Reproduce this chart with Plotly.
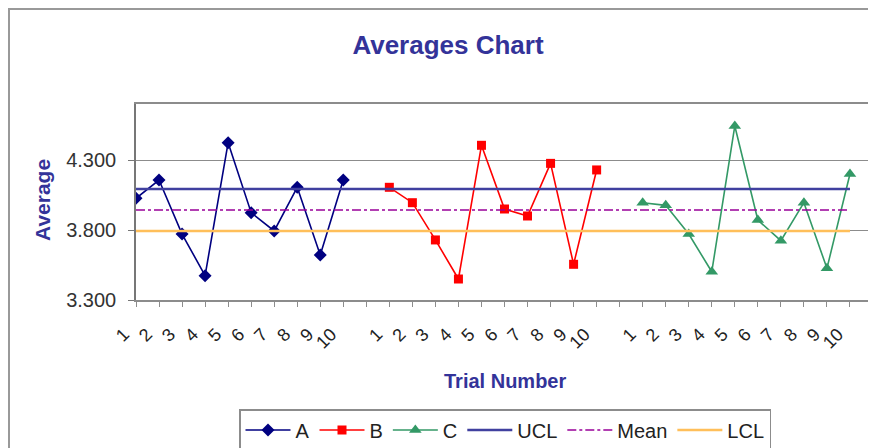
import plotly.graph_objects as go

# ---- data ----
trial_labels = ["1", "2", "3", "4", "5", "6", "7", "8", "9", "10"]
groups = ["A", "B", "C"]
avg_A = [4.026, 4.157, 3.771, 3.474, 4.424, 3.924, 3.793, 4.105, 3.621, 4.157]
avg_B = [4.105, 3.995, 3.729, 3.450, 4.405, 3.950, 3.900, 4.276, 3.555, 4.229]
avg_C = [3.995, 3.976, 3.771, 3.502, 4.543, 3.871, 3.724, 3.995, 3.526, 4.200]
ucl_value = 4.093
mean_value = 3.943
lcl_value = 3.793
y_ticks = [3.3, 3.8, 4.3]

# category slots: each group of 10 trials followed by one empty slot
slot = len(trial_labels) + 1
tick_text = (trial_labels + [""]) * len(groups)
tick_pos = list(range(len(tick_text)))
n_used = slot * len(groups) - 1  # categories covered by the control lines

series = [
    ("A", avg_A, "#000080", "diamond", 10),
    ("B", avg_B, "#FF0000", "square", 9),
    ("C", avg_C, "#339966", "triangle-up", 11),
]

fig = go.Figure()
for gi, (name, vals, col, sym, ms) in enumerate(series):
    xs = [gi * slot + i for i in range(len(vals))]
    fig.add_trace(go.Scatter(
        x=xs, y=vals, name=name, mode="lines+markers",
        line=dict(color=col, width=1.6),
        marker=dict(symbol=sym, size=ms, color=col),
    ))

ctrl_x = list(range(n_used))
fig.add_trace(go.Scatter(x=ctrl_x, y=[ucl_value] * n_used, name="UCL", mode="lines",
                         line=dict(color="#40409F", width=2.5)))
fig.add_trace(go.Scatter(x=ctrl_x, y=[mean_value] * n_used, name="Mean", mode="lines",
                         line=dict(color="#990099", width=1.5, dash="dashdot")))
fig.add_trace(go.Scatter(x=ctrl_x, y=[lcl_value] * n_used, name="LCL", mode="lines",
                         line=dict(color="#FFBF5A", width=2.5)))

# page has an 8px body margin: figure pixel = page pixel - OFF
OFF = 8
W, H = 876 - OFF, 448 - OFF
L, T = 136 - OFF, 104 - OFF
R = W - (873 - OFF)
B = H - (300 - OFF)
pw, ph = W - L - R, H - T - B

def px_x(px):  # page px -> paper fraction
    return (px - OFF - L) / pw

def px_y(py):
    return (H - B - (py - OFF)) / ph

def cx(px):  # page px -> container fraction
    return (px - OFF) / W

def cy(py):
    return 1 - (py - OFF) / H

font_family = "Liberation Sans, Arial, sans-serif"

fig.update_layout(
    width=W, height=H,
    margin=dict(l=L, r=R, t=T, b=B, pad=0, autoexpand=False),
    paper_bgcolor="white", plot_bgcolor="white",
    font=dict(family=font_family, size=16, color="#000000"),
    title=dict(text="<b>Averages Chart</b>", x=cx(448), xanchor="center",
               xref="container", yref="container",
               y=cy(45), yanchor="middle",
               font=dict(size=26, color="#333399", family=font_family)),
    showlegend=True,
    legend=dict(orientation="h", xref="container", yref="container",
                x=cx(505), xanchor="center",
                y=cy(409), yanchor="top",
                bordercolor="#8c8c8c", borderwidth=1.5, bgcolor="white",
                font=dict(size=20, color="#222222"),
                itemwidth=45, tracegroupgap=0),
    xaxis=dict(
        range=[0, len(tick_text) - 1], automargin=False,
        tickmode="array", tickvals=tick_pos, ticktext=tick_text,
        tickangle=-45, ticks="outside", ticklen=5, tickcolor="#8c8c8c",
        ticklabelshift=-12, ticklabelstandoff=10,
        tickfont=dict(size=18, color="#222222"),
        showgrid=False, zeroline=False,
        showline=True, linecolor="#8c8c8c", linewidth=1.5, mirror=True,
    ),
    yaxis=dict(
        range=[3.3, 4.7], automargin=False,
        tickmode="array", tickvals=y_ticks, tickformat=".3f",
        ticks="outside", ticklen=6, tickcolor="#777777",
        ticklabelstandoff=8,
        tickfont=dict(size=20, color="#333333"),
        showgrid=True, gridcolor="#8c8c8c", gridwidth=1.2,
        zeroline=False,
        showline=True, linecolor="#777777", linewidth=1.5, mirror=True,
    ),
    annotations=[
        dict(text="<b>Average</b>", x=px_x(42), y=px_y(200), xref="paper", yref="paper",
             textangle=-90, showarrow=False, xanchor="center", yanchor="middle",
             font=dict(size=21, color="#333399")),
        dict(text="<b>Trial Number</b>", x=px_x(505), y=px_y(381), xref="paper", yref="paper",
             showarrow=False, xanchor="center", yanchor="middle",
             font=dict(size=20, color="#333399")),
    ],
    shapes=[
        dict(type="rect", xref="paper", yref="paper",
             x0=px_x(9), x1=px_x(900), y0=px_y(470), y1=px_y(9),
             line=dict(color="#999999", width=2), fillcolor="rgba(0,0,0,0)", layer="below"),
    ],
)

fig.write_html("out.html")
